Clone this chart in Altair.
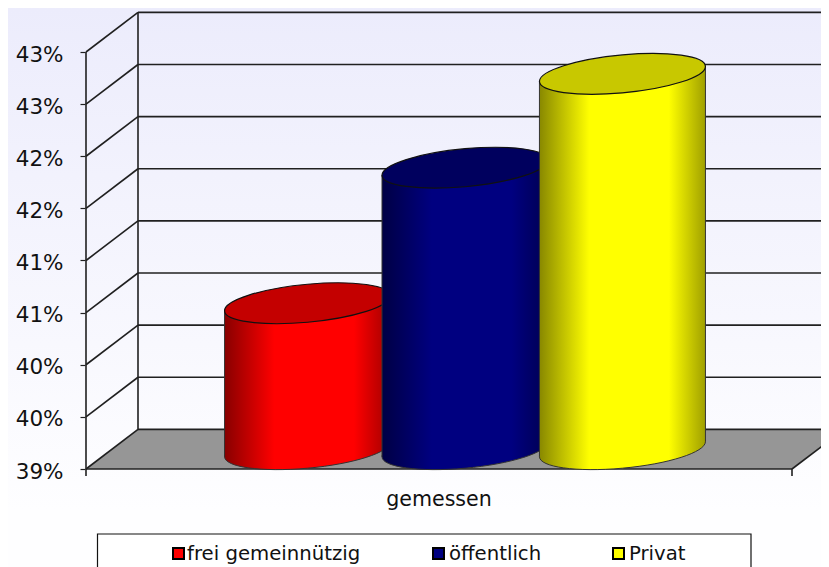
import altair as alt
import pandas as pd

# ---- chart values ----
series = ["frei gemeinnützig", "öffentlich", "Privat"]
measured = [40.4, 41.7, 42.6]
slots = [0.277, 0.5, 0.723]
base_colors = ["#FF0000", "#000080", "#FFFF00"]
edge_left = ["#880000", "#000044", "#888800"]
edge_right = ["#A00000", "#000050", "#A0A000"]
cap_colors = ["#C40000", "#00005E", "#C8C800"]
y_ticks = [39, 39.5, 40, 40.5, 41, 41.5, 42, 42.5, 43]
category = "gemessen"

# ---- layout ----
W, H = 813, 559
PX_PER_VALUE = 104.25
PX_PER_UNIT = 706.0
DEPTH_U = 52 / PX_PER_UNIT
DEPTH_V = 0.38
HALF_U = 83 / PX_PER_UNIT
TILT_V = 7.5 / PX_PER_VALUE
FONT = "DejaVu Sans"
LINE = "#202020"

x_scale = alt.Scale(domain=[(8 - 86) / PX_PER_UNIT, (821 - 86) / PX_PER_UNIT], range=[0, W], nice=False, zero=False)
y_scale = alt.Scale(domain=[39 - (567 - 469) / PX_PER_VALUE, 39 + (469 - 8) / PX_PER_VALUE], range=[H, 0], nice=False, zero=False)

y_axis = alt.Axis(
    values=y_ticks, offset=-77, domain=False, grid=False, title=None,
    tickSize=5, tickColor=LINE, tickWidth=1.2, zindex=1,
    labelExpr="format(datum.value, '.0f') + '%'",
    labelFont=FONT, labelFontSize=21.5, labelColor="#111111",
    labelPadding=17, labelOffset=3, labelOverlap=False,
)


def X(f="u"):
    return alt.X(f"{f}:Q", scale=x_scale, axis=None)


def Y(f="v"):
    return alt.Y(f"{f}:Q", scale=y_scale, axis=y_axis)


def hgrad(stops):
    return alt.LinearGradient(
        gradient="linear", x1=0, x2=1, y1=0, y2=0,
        stops=[alt.GradientStop(color=c, offset=o) for o, c in stops],
    )


def ellipse_path(a=0.09, b=0.229, k=0.5523):
    # closed skewed ellipse: P(t) = U cos t + V sin t
    U = (1.0, -a)
    V = (0.0, b)
    quads = [(U, V), (V, (-U[0], -U[1])), ((-U[0], -U[1]), (-V[0], -V[1])), ((-V[0], -V[1]), U)]
    d = f"M{U[0]:.4f},{U[1]:.4f}"
    for A, B in quads:
        c1 = (A[0] + k * B[0], A[1] + k * B[1])
        c2 = (B[0] + k * A[0], B[1] + k * A[1])
        d += f" C{c1[0]:.4f},{c1[1]:.4f} {c2[0]:.4f},{c2[1]:.4f} {B[0]:.4f},{B[1]:.4f}"
    return d + " Z"


SHAPE = ellipse_path()
SIZE = (2 * 83) ** 2

layers = []

# background
layers.append(
    alt.Chart(pd.DataFrame({"a": [0]})).mark_rect(
        fill=alt.LinearGradient(
            gradient="linear", x1=0, x2=0, y1=0, y2=1,
            stops=[alt.GradientStop(color="#ECECFC", offset=0), alt.GradientStop(color="#FEFEFF", offset=0.9), alt.GradientStop(color="#FEFEFF", offset=1)],
        )
    ).encode(x=alt.value(0), x2=alt.value(W), y=alt.value(0), y2=alt.value(H))
)

# floor
floor = pd.DataFrame({
    "u": [0, DEPTH_U, 1, 1 + DEPTH_U],
    "v": [39, 39 + DEPTH_V, 39 + DEPTH_V, 39 + DEPTH_V],
    "v2": [39, 39, 39, 39 + DEPTH_V],
})
layers.append(alt.Chart(floor).mark_area(fill="#969696", clip=True).encode(x=X(), y=Y(), y2=alt.Y2("v2:Q")))

# wall lines
rules = []
for t in y_ticks:
    rules.append({"u": 0, "u2": DEPTH_U, "v": t, "v2": t + DEPTH_V})
    rules.append({"u": DEPTH_U, "u2": 1 + DEPTH_U, "v": t + DEPTH_V, "v2": t + DEPTH_V})
rules.append({"u": 0, "u2": 0, "v": 39, "v2": 43})
rules.append({"u": DEPTH_U, "u2": DEPTH_U, "v": 39 + DEPTH_V, "v2": 43 + DEPTH_V})
rules.append({"u": 0, "u2": 1, "v": 39, "v2": 39})
rules.append({"u": 1, "u2": 1 + DEPTH_U, "v": 39, "v2": 39 + DEPTH_V})
for end in (0, 1):
    rules.append({"u": end, "u2": end, "v": 39, "v2": 39 - 7 / PX_PER_VALUE})
layers.append(
    alt.Chart(pd.DataFrame(rules)).mark_rule(color=LINE, strokeWidth=1.6, clip=True).encode(
        x=X(), x2=alt.X2("u2:Q"), y=Y(), y2=alt.Y2("v2:Q")
    )
)

# cylinders
mid_u = DEPTH_U / 2
mid_v = DEPTH_V / 2
for name, val, slot, base, el, er, cap in zip(series, measured, slots, base_colors, edge_left, edge_right, cap_colors):
    grad = hgrad([(0, el), (0.3, base), (0.78, base), (1, er)])
    cu = slot + mid_u
    body = pd.DataFrame({
        "u": [cu - HALF_U, cu + HALF_U],
        "v": [val + mid_v - TILT_V, val + mid_v + TILT_V],
        "v2": [39 + mid_v - TILT_V, 39 + mid_v + TILT_V],
    })
    bottom = pd.DataFrame({"u": [cu], "v": [39 + mid_v]})
    top = pd.DataFrame({"u": [cu], "v": [val + mid_v]})
    layers.append(
        alt.Chart(bottom).mark_point(shape=SHAPE, size=SIZE, filled=True, fill=grad, stroke="#333333", strokeWidth=1, opacity=1).encode(x=X(), y=Y())
    )
    layers.append(alt.Chart(body).mark_area(fill=grad).encode(x=X(), y=Y(), y2=alt.Y2("v2:Q")))
    layers.append(
        alt.Chart(body).mark_rule(color="#333333", strokeWidth=1).encode(x=X(), y=Y(), y2=alt.Y2("v2:Q"))
    )
    layers.append(
        alt.Chart(top).mark_point(shape=SHAPE, size=SIZE, filled=True, fill=cap, stroke="#111111", strokeWidth=1.2, opacity=1).encode(x=X(), y=Y())
    )

# category label
layers.append(
    alt.Chart(pd.DataFrame({"u": [0.5], "t": [category]})).mark_text(
        font=FONT, fontSize=20.6, color="#111111", align="center", baseline="middle"
    ).encode(x=X(), y=alt.value(492), text="t:N")
)

# legend box
layers.append(
    alt.Chart(pd.DataFrame({"a": [0]})).mark_rect(fill="#FFFFFF", stroke="#111111", strokeWidth=1.2).encode(
        x=alt.value(89.5), x2=alt.value(743), y=alt.value(526), y2=alt.value(H + 10)
    )
)
swatch_x = [170.5, 430.5, 610.5]
label_x = [179, 441, 621]
for name, base, sx, lx in zip(series, base_colors, swatch_x, label_x):
    d = pd.DataFrame({"t": [name]})
    layers.append(
        alt.Chart(d).mark_square(size=121, fill=base, stroke="#000000", strokeWidth=2, opacity=1).encode(x=alt.value(sx), y=alt.value(545.5))
    )
    layers.append(
        alt.Chart(d).mark_text(font=FONT, fontSize=19.7, color="#111111", align="left", baseline="middle").encode(
            x=alt.value(lx), y=alt.value(546), text="t:N"
        )
    )

chart = alt.layer(*layers).properties(
    width=W, height=H, padding=0, autosize=alt.AutoSizeParams(type="none")
).configure_view(stroke=None)

chart.save("out.html", embed_options={"renderer": "svg", "actions": False})
